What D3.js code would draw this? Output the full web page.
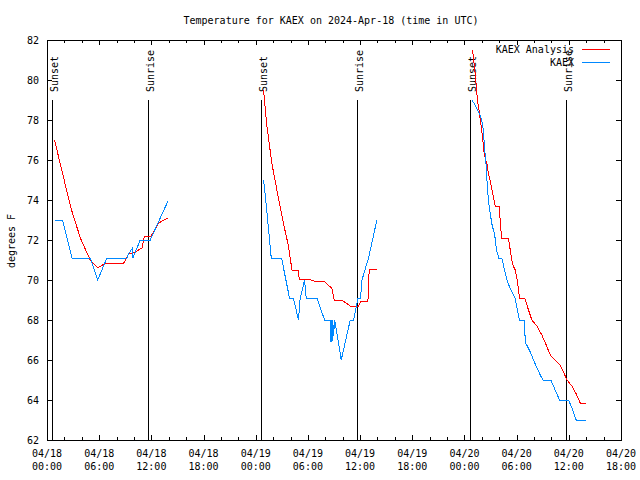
<!DOCTYPE html>
<html>
<head>
<meta charset="utf-8">
<script src="https://cdn.jsdelivr.net/npm/d3@7"></script>
<style>
  html, body { margin: 0; padding: 0; background: #fff; }
  svg { display: block; }
  text { font-family: "DejaVu Sans Mono", "Liberation Mono", monospace; font-size: 10px; fill: #000; }
</style>
</head>
<body>
<svg id="chart" width="640" height="480"></svg>
<script>
// ---- data (times in UTC) ----
const titleText = "Temperature for KAEX on 2024-Apr-18 (time in UTC)";
const yLabelText = "degrees F";
const seriesNames = ["KAEX Analysis", "KAEX"];
const yTicks = [62, 64, 66, 68, 70, 72, 74, 76, 78, 80, 82];

const sunsetTimes = ["2024-04-18 00:33", "2024-04-19 00:35", "2024-04-20 00:40"];
const sunriseTimes = ["2024-04-18 11:40", "2024-04-19 11:41", "2024-04-20 11:41"];

const analysisDay1 = [
  ["2024-04-18 00:52", 77.0], ["2024-04-18 01:30", 75.85], ["2024-04-18 02:45", 73.6],
  ["2024-04-18 03:50", 72.1], ["2024-04-18 04:58", 71.0], ["2024-04-18 05:50", 70.6],
  ["2024-04-18 06:35", 70.8], ["2024-04-18 08:50", 70.85], ["2024-04-18 09:25", 71.35],
  ["2024-04-18 09:55", 71.35], ["2024-04-18 10:55", 71.6], ["2024-04-18 11:12", 72.2],
  ["2024-04-18 11:58", 72.2], ["2024-04-18 12:50", 72.85], ["2024-04-18 13:55", 73.1]
];
const observedDay1 = [
  ["2024-04-18 00:52", 73.0], ["2024-04-18 01:47", 73.0], ["2024-04-18 02:52", 71.1],
  ["2024-04-18 04:58", 71.1], ["2024-04-18 05:50", 70.0], ["2024-04-18 06:53", 71.1],
  ["2024-04-18 09:11", 71.1], ["2024-04-18 09:22", 71.3], ["2024-04-18 09:50", 71.6],
  ["2024-04-18 09:53", 71.1], ["2024-04-18 10:43", 72.0], ["2024-04-18 11:52", 72.0],
  ["2024-04-18 13:55", 73.95]
];
const analysisDay2 = [
  ["2024-04-19 00:54", 79.5], ["2024-04-19 01:17", 77.7], ["2024-04-19 01:52", 75.8],
  ["2024-04-19 02:26", 74.5], ["2024-04-19 03:12", 72.8], ["2024-04-19 03:46", 71.7],
  ["2024-04-19 04:10", 70.5], ["2024-04-19 04:55", 70.45], ["2024-04-19 05:00", 70.05],
  ["2024-04-19 06:04", 70.05], ["2024-04-19 06:50", 69.92], ["2024-04-19 07:55", 69.92],
  ["2024-04-19 08:45", 69.58], ["2024-04-19 09:02", 69.0], ["2024-04-19 09:54", 69.0],
  ["2024-04-19 10:52", 68.7], ["2024-04-19 11:49", 68.7], ["2024-04-19 12:06", 68.95],
  ["2024-04-19 12:54", 68.95], ["2024-04-19 13:03", 70.53], ["2024-04-19 13:58", 70.53]
];
const observedDay2 = [
  ["2024-04-19 00:54", 75.0], ["2024-04-19 01:12", 73.8], ["2024-04-19 01:47", 71.1],
  ["2024-04-19 02:58", 71.1], ["2024-04-19 03:53", 69.1], ["2024-04-19 04:20", 69.1],
  ["2024-04-19 04:55", 68.0], ["2024-04-19 05:05", 69.0], ["2024-04-19 05:37", 70.0],
  ["2024-04-19 05:48", 69.1], ["2024-04-19 07:02", 69.1], ["2024-04-19 07:55", 68.0],
  ["2024-04-19 08:34", 68.0], ["2024-04-19 08:38", 66.9], ["2024-04-19 08:42", 68.0],
  ["2024-04-19 08:46", 66.9], ["2024-04-19 08:52", 68.0], ["2024-04-19 08:56", 67.2],
  ["2024-04-19 09:05", 68.0], ["2024-04-19 09:50", 66.0], ["2024-04-19 10:52", 68.0],
  ["2024-04-19 11:15", 68.0], ["2024-04-19 11:45", 69.1], ["2024-04-19 12:03", 69.1],
  ["2024-04-19 12:13", 70.0], ["2024-04-19 12:58", 71.1], ["2024-04-19 13:56", 73.0]
];
const analysisDay3 = [
  ["2024-04-20 00:56", 81.5], ["2024-04-20 01:14", 80.3], ["2024-04-20 01:30", 79.0],
  ["2024-04-20 01:42", 78.4], ["2024-04-20 01:53", 77.8], ["2024-04-20 02:07", 77.0],
  ["2024-04-20 02:16", 76.3], ["2024-04-20 02:35", 75.8], ["2024-04-20 02:46", 75.3],
  ["2024-04-20 03:02", 74.8], ["2024-04-20 03:16", 74.3], ["2024-04-20 03:32", 73.7],
  ["2024-04-20 04:00", 73.7], ["2024-04-20 04:11", 72.5], ["2024-04-20 04:18", 72.1],
  ["2024-04-20 05:03", 72.1], ["2024-04-20 05:16", 71.5], ["2024-04-20 05:31", 70.8],
  ["2024-04-20 05:50", 70.5], ["2024-04-20 06:02", 70.1], ["2024-04-20 06:13", 69.5],
  ["2024-04-20 06:20", 69.1], ["2024-04-20 06:55", 69.1], ["2024-04-20 07:22", 68.5],
  ["2024-04-20 07:45", 68.0], ["2024-04-20 08:20", 67.7], ["2024-04-20 08:54", 67.25],
  ["2024-04-20 09:24", 66.75], ["2024-04-20 09:52", 66.25], ["2024-04-20 10:26", 66.0],
  ["2024-04-20 11:00", 65.75], ["2024-04-20 11:23", 65.4], ["2024-04-20 11:47", 65.0],
  ["2024-04-20 12:21", 64.7], ["2024-04-20 12:51", 64.3], ["2024-04-20 13:19", 63.85],
  ["2024-04-20 13:58", 63.85]
];
const observedDay3 = [
  ["2024-04-20 00:51", 79.0], ["2024-04-20 01:14", 78.75], ["2024-04-20 01:37", 78.4],
  ["2024-04-20 01:51", 78.2], ["2024-04-20 02:07", 77.7], ["2024-04-20 02:15", 77.0],
  ["2024-04-20 02:23", 76.25], ["2024-04-20 02:30", 75.7], ["2024-04-20 02:35", 75.0],
  ["2024-04-20 02:45", 74.0], ["2024-04-20 02:58", 73.3], ["2024-04-20 03:12", 72.7],
  ["2024-04-20 03:28", 72.3], ["2024-04-20 03:41", 71.5], ["2024-04-20 03:57", 71.1],
  ["2024-04-20 04:18", 71.1], ["2024-04-20 04:36", 70.5], ["2024-04-20 04:57", 69.9],
  ["2024-04-20 05:27", 69.4], ["2024-04-20 05:50", 69.1], ["2024-04-20 06:02", 68.6],
  ["2024-04-20 06:20", 68.0], ["2024-04-20 06:55", 68.0], ["2024-04-20 06:59", 66.9],
  ["2024-04-20 07:34", 66.4], ["2024-04-20 08:08", 65.8], ["2024-04-20 08:43", 65.25],
  ["2024-04-20 09:01", 65.0], ["2024-04-20 09:56", 65.0], ["2024-04-20 10:26", 64.5],
  ["2024-04-20 10:56", 64.0], ["2024-04-20 11:58", 64.0], ["2024-04-20 12:21", 63.6],
  ["2024-04-20 12:51", 63.0], ["2024-04-20 13:58", 63.0]
];

const analysisSegments = [analysisDay1, analysisDay2, analysisDay3];
const observedSegments = [observedDay1, observedDay2, observedDay3];
const seriesColors = ["#ff0000", "#0088ff"];

(function () {
// ---- layout ----
const parse = d3.utcParse("%Y-%m-%d %H:%M");
const svg = d3.select("#chart");
const pLeft = 47, pRight = 621, pTop = 40, pBottom = 440;

const x = d3.scaleUtc()
  .domain([parse("2024-04-18 00:00"), parse("2024-04-20 18:00")])
  .range([pLeft, pRight]);
const y = d3.scaleLinear().domain([62, 82]).range([pBottom, pTop]);

const majorTicks = d3.utcHour.every(6).range(x.domain()[0], new Date(+x.domain()[1] + 1));
const minorTicks = d3.utcHour.every(2).range(x.domain()[0], new Date(+x.domain()[1] + 1));

const g = svg.append("g").attr("shape-rendering", "crispEdges");

// ticks (inward, mirrored)
minorTicks.forEach(t => {
  const major = t.getUTCHours() % 6 === 0;
  const len = major ? 5 : 3;
  const xx = Math.round(x(t)) + 0.5;
  g.append("line").attr("x1", xx).attr("x2", xx).attr("y1", pBottom).attr("y2", pBottom - len).attr("stroke", "#000");
  g.append("line").attr("x1", xx).attr("x2", xx).attr("y1", pTop).attr("y2", pTop + len).attr("stroke", "#000");
});
yTicks.forEach(v => {
  const yy = Math.round(y(v)) + 0.5;
  g.append("line").attr("x1", pLeft).attr("x2", pLeft + 5).attr("y1", yy).attr("y2", yy).attr("stroke", "#000");
  g.append("line").attr("x1", pRight).attr("x2", pRight - 5).attr("y1", yy).attr("y2", yy).attr("stroke", "#000");
});

// frame
g.append("rect").attr("x", pLeft + 0.5).attr("y", pTop + 0.5)
  .attr("width", pRight - pLeft).attr("height", pBottom - pTop)
  .attr("fill", "none").attr("stroke", "#000");

// y tick labels
svg.append("g").selectAll("text").data(yTicks).join("text")
  .attr("x", pLeft - 8).attr("y", d => y(d))
  .attr("dy", "0.35em").attr("text-anchor", "end").text(d => d);

// x tick labels
const fmtDate = d3.utcFormat("%m/%d"), fmtTime = d3.utcFormat("%H:%M");
const xl = svg.append("g").selectAll("g").data(majorTicks).join("g");
xl.append("text").attr("x", d => x(d)).attr("y", 457).attr("text-anchor", "middle").text(fmtDate);
xl.append("text").attr("x", d => x(d)).attr("y", 470).attr("text-anchor", "middle").text(fmtTime);

// title & y label
svg.append("text").attr("x", 331).attr("y", 24).attr("text-anchor", "middle").text(titleText);
svg.append("text").attr("transform", "translate(11,241) rotate(-90)")
  .attr("text-anchor", "middle").attr("dy", "0.35em").text(yLabelText);

// sunset / sunrise markers
const markers = sunsetTimes.map(t => ({t: parse(t), label: "Sunset"}))
  .concat(sunriseTimes.map(t => ({t: parse(t), label: "Sunrise"})));
markers.forEach(m => {
  const xx = Math.round(x(m.t)) + 0.5;
  g.append("line").attr("x1", xx).attr("x2", xx).attr("y1", y(79)).attr("y2", pBottom).attr("stroke", "#000");
  svg.append("text")
    .attr("transform", `translate(${xx + 1.5},${y(79) - 8}) rotate(-90)`)
    .attr("dy", "0.35em").attr("text-anchor", "start").text(m.label);
});

// data lines
const line = d3.line().x(d => x(parse(d[0]))).y(d => y(d[1]));
const dataG = svg.append("g").attr("shape-rendering", "crispEdges");
analysisSegments.forEach(seg => {
  dataG.append("path").datum(seg).attr("d", line)
    .attr("fill", "none").attr("stroke", seriesColors[0]).attr("stroke-width", 1);
});
observedSegments.forEach(seg => {
  dataG.append("path").datum(seg).attr("d", line)
    .attr("fill", "none").attr("stroke", seriesColors[1]).attr("stroke-width", 1);
});

// legend
seriesNames.forEach((name, i) => {
  const ly = 49.5 + i * 13;
  svg.append("text").attr("x", 574).attr("y", ly).attr("dy", "0.35em")
    .attr("text-anchor", "end").text(name);
  svg.append("line").attr("x1", 582).attr("x2", 610).attr("y1", ly).attr("y2", ly)
    .attr("stroke", seriesColors[i]).attr("stroke-width", 1).attr("shape-rendering", "crispEdges");
});
})();
</script>
</body>
</html>
